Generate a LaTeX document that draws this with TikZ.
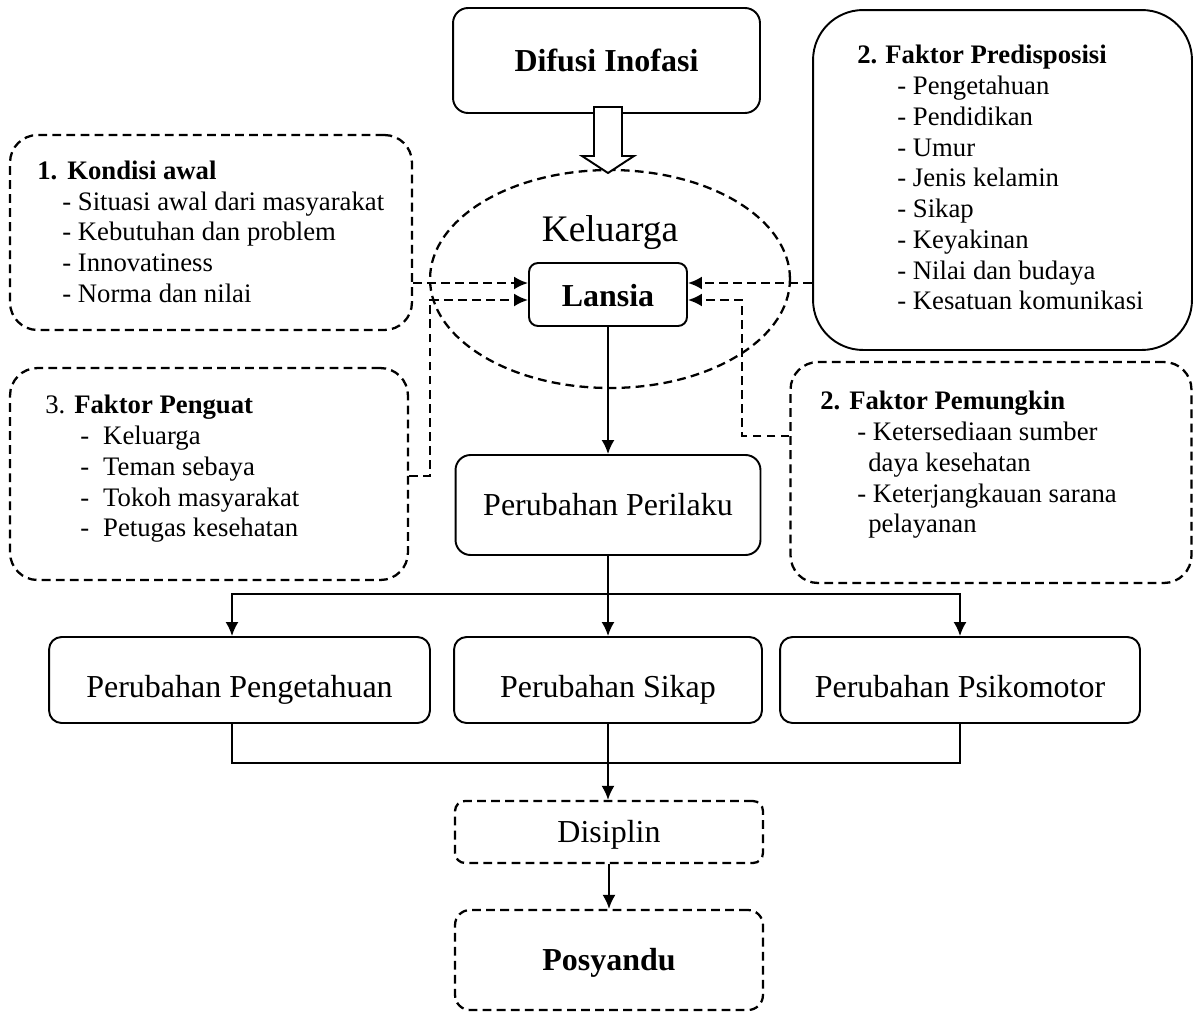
\documentclass[tikz,border=0pt]{standalone}
\usepackage{fontspec}
\setmainfont{Liberation Serif}
\usepackage{tikz}
\usetikzlibrary{arrows.meta, calc, positioning, shapes.geometric}
\tikzset{>={Latex[length=0.28cm,width=0.26cm]}}
\newcommand{\listfont}{\fontsize{15.2pt}{17.5pt}\selectfont}
\newcommand{\boxfont}{\fontsize{18.2pt}{21pt}\selectfont}
\newcommand{\kelfont}{\fontsize{21.3pt}{25pt}\selectfont}
\tikzset{
	box/.style={draw, line width=1.1pt, inner sep=0pt, rounded corners=#1, font=\boxfont, text depth=0pt},
	box/.default=0.3cm,
	dbox/.style={box=#1, line width=1.3pt, dash pattern=on 5pt off 3pt},
	dbox/.default=0.3cm,
	listtxt/.style={anchor=north west, inner sep=0pt, align=left, font=\listfont},
	sline/.style={line width=1.1pt},
	dline/.style={line width=1.3pt, dash pattern=on 5pt off 3pt}
}

\begin{document}
\begin{tikzpicture}[x=0.02cm, y=-0.02cm]
						\useasboundingbox (0,0) rectangle (1193,1014);
						\node [box, minimum width=6.14cm, minimum height=2.1cm, text height=0.45cm, font=\boxfont\bfseries] (difusi) at (606.5,60.5) {Difusi Inofasi};
						\node [draw, ellipse, dline, minimum width=7.2cm, minimum height=4.36cm] (keluarga) at (610,279) {};
						\node [font=\kelfont] (keltxt) at (610,233) {Keluarga};
						\draw [sline, fill=white] (594,107) -- (622,107) -- (622,156) -- (634,156) -- (608,173) -- (582,156) -- (594,156) -- cycle;
						\node [box=0.18cm, minimum width=3.16cm, minimum height=1.26cm, text height=0.49cm, font=\boxfont\bfseries] (lansia) at (608,294.5) {Lansia};
						\node [dbox=0.55cm, minimum width=8.04cm, minimum height=3.9cm] (kondisi) at (211,232.5) {};
						\node [box=1cm, minimum width=7.58cm, minimum height=6.8cm] (predis) at (1002.5,180) {};
						\node [dbox=0.55cm, minimum width=7.96cm, minimum height=4.24cm] (penguat) at (209,474) {};
						\node [dbox=0.55cm, minimum width=8.02cm, minimum height=4.42cm] (pemungkin) at (991,472.5) {};
						\node [listtxt] (kondisi-t) at (37,160.5) {\textbf{1.\hspace{0.2cm}Kondisi awal}\\
							\hspace*{0.5cm}- Situasi awal dari masyarakat\\
							\hspace*{0.5cm}- Kebutuhan dan problem\\
							\hspace*{0.5cm}- Innovatiness\\
							\hspace*{0.5cm}- Norma dan nilai};
						\node [listtxt] (predis-t) at (857,45) {\textbf{2.\hspace{0.16cm}Faktor Predisposisi}\\
							\hspace*{0.8cm}- Pengetahuan\\
							\hspace*{0.8cm}- Pendidikan\\
							\hspace*{0.8cm}- Umur\\
							\hspace*{0.8cm}- Jenis kelamin\\
							\hspace*{0.8cm}- Sikap\\
							\hspace*{0.8cm}- Keyakinan\\
							\hspace*{0.8cm}- Nilai dan budaya\\
							\hspace*{0.8cm}- Kesatuan komunikasi};
						\node [listtxt] (penguat-t) at (45,395) {3. \textbf{Faktor Penguat}\\
							\hspace*{0.7cm}-\hspace{0.28cm}Keluarga\\
							\hspace*{0.7cm}-\hspace{0.28cm}Teman sebaya\\
							\hspace*{0.7cm}-\hspace{0.28cm}Tokoh masyarakat\\
							\hspace*{0.7cm}-\hspace{0.28cm}Petugas kesehatan};
						\node [listtxt] (pemungkin-t) at (820,391) {\textbf{2. Faktor Pemungkin}\\
							\hspace*{0.74cm}- Ketersediaan sumber\\
							\hspace*{0.96cm}daya kesehatan\\
							\hspace*{0.74cm}- Keterjangkauan sarana\\
							\hspace*{0.96cm}pelayanan};
						\node [box, minimum width=6.1cm, minimum height=2cm, text height=0.4cm] (perilaku) at (608,505) {Perubahan Perilaku};
						\node [box=0.25cm, minimum width=7.62cm, minimum height=1.72cm, text height=0.68cm] (peng) at (239.5,680) {Perubahan Pengetahuan};
						\node [box=0.25cm, minimum width=6.16cm, minimum height=1.72cm, text height=0.68cm] (sikap) at (608,680) {Perubahan Sikap};
						\node [box=0.25cm, minimum width=7.2cm, minimum height=1.72cm, text height=0.68cm] (psiko) at (960,680) {Perubahan Psikomotor};
						\node [dbox=0.2cm, minimum width=6.16cm, minimum height=1.24cm, text height=0.43cm] (disiplin) at (609,832) {Disiplin};
						\node [dbox, minimum width=6.16cm, minimum height=2cm, text height=0.43cm, font=\boxfont\bfseries] (posyandu) at (609,960) {Posyandu};
						\coordinate (lw1) at ([yshift=0.23cm]lansia.west);
						\coordinate (lw2) at ([yshift=-0.11cm]lansia.west);
						\coordinate (le1) at ([yshift=0.23cm]lansia.east);
						\coordinate (le2) at ([yshift=-0.11cm]lansia.east);
						\coordinate (bendl) at (430,476);
						\coordinate (bendr) at (742,436);
						\coordinate (split) at (608,594);
						\coordinate (join) at (608,763);
						\draw [dline, ->] (kondisi.east |- lw1) -- (lw1);
						\draw [dline, ->] (penguat.east |- bendl) -- (bendl) |- (lw2);
						\draw [dline, ->] (predis.west |- le1) -- (le1);
						\draw [dline, ->] (pemungkin.west |- bendr) -- (bendr) |- (le2);
						\draw [sline, ->] (lansia.south) -- (lansia.south |- perilaku.north);
						\draw [sline, ->] (perilaku.south) -- (sikap.north);
						\draw [sline, ->] (split) -| ([xshift=-0.15cm]peng.north);
						\draw [sline, ->] (split) -| (psiko.north);
						\draw [sline] ([xshift=-0.15cm]peng.south) |- (join) -| (psiko.south);
						\draw [sline, ->] (sikap.south) -- (sikap.south |- disiplin.north);
						\draw [sline, ->] (disiplin.south) -- (posyandu.north);
					\end{tikzpicture}
\end{document}
